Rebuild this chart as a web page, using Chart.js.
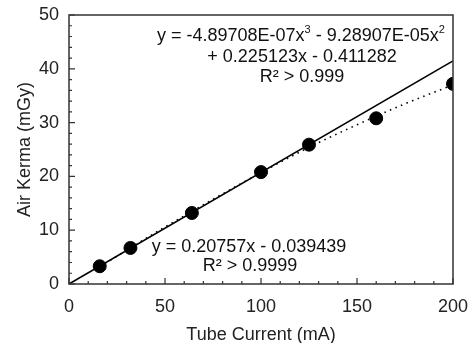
<!DOCTYPE html>
<html><head><meta charset="utf-8">
<script src="https://cdn.jsdelivr.net/npm/chart.js@4.4.1/dist/chart.umd.min.js"></script>
<style>html,body{margin:0;padding:0;background:#fff}#wrap{width:471px;height:343px}</style>
</head><body><div id="wrap"><canvas id="c" width="471" height="343"></canvas></div>
<script>
// Data
const tubeCurrent = [16, 32, 64, 100, 125, 160, 200];
const airKerma = [3.3, 6.7, 13.2, 20.8, 25.9, 30.8, 37.2];
// Linear trend line (solid) end points
const linX = [0, 200];
const linY = [0, 41.47];
// Polynomial trend line (dotted)
const polyX = [16, 50, 100, 125, 150, 175, 200];
const polyY = [3.2, 10.6, 20.7, 25.4, 29.6, 33.5, 37.0];
const xTicks = [0, 50, 100, 150, 200];
const yTicks = [0, 10, 20, 30, 40, 50];

const FONT = "'Liberation Sans', Arial, sans-serif";
const FS = 18;
const toXY = (xs, ys) => xs.map((x, i) => ({x, y: ys[i]}));

const framePlugin = {
  id: 'frame',
  afterDatasetsDraw(chart) {
    const {ctx, chartArea: a, scales: {x, y}} = chart;
    ctx.save();
    ctx.strokeStyle = '#333';
    ctx.lineWidth = 1.5;
    ctx.strokeRect(a.left, a.top, a.right - a.left, a.bottom - a.top);
    ctx.lineWidth = 1.2;
    ctx.beginPath();
    for (let v = 0; v <= 200; v += 10) {
      const px = x.getPixelForValue(v);
      const len = v % 50 === 0 ? 6 : 3;
      ctx.moveTo(px, a.bottom); ctx.lineTo(px, a.bottom - len);
    }
    for (let v = 0; v <= 50; v += 2) {
      const py = y.getPixelForValue(v);
      const len = v % 10 === 0 ? 6 : 3;
      ctx.moveTo(a.left, py); ctx.lineTo(a.left + len, py);
    }
    ctx.stroke();

    // Equations
    ctx.fillStyle = '#111';
    ctx.textBaseline = 'alphabetic';
    const parts = [['y = -4.89708E-07x', false], ['3', true], [' - 9.28907E-05x', false], ['2', true]];
    let cx = 157;
    const b1 = 41;
    parts.forEach(([t, s]) => {
      ctx.font = (s ? '11px ' : FS + 'px ') + FONT;
      ctx.fillText(t, cx, s ? b1 - 8 : b1);
      cx += ctx.measureText(t).width;
    });
    ctx.font = FS + 'px ' + FONT;
    ctx.textAlign = 'center';
    ctx.fillText('+ 0.225123x - 0.411282', 302, 62);
    ctx.fillText('R\u00b2 > 0.999', 302, 82);
    ctx.fillText('y = 0.20757x - 0.039439', 249, 252);
    ctx.fillText('R\u00b2 > 0.9999', 250, 271);
    ctx.restore();
  }
};

new Chart(document.getElementById('c'), {
  type: 'scatter',
  data: {
    datasets: [
      {data: toXY(tubeCurrent, airKerma), backgroundColor: '#000', borderColor: '#000', pointRadius: 6.5, pointHoverRadius: 6.5, showLine: false},
      {data: toXY(linX, linY), borderColor: '#000', borderWidth: 1.6, pointRadius: 0, showLine: true},
      {data: toXY(polyX, polyY), borderColor: '#000', borderWidth: 1.6, borderDash: [1.5, 4.5], pointRadius: 0, showLine: true, tension: 0.4, cubicInterpolationMode: 'monotone'}
    ]
  },
  options: {
    responsive: false,
    animation: false,
    events: [],
    layout: {padding: {left: 14, right: 18, top: 15, bottom: 0}},
    plugins: {legend: {display: false}, tooltip: {enabled: false}},
    scales: {
      x: {
        type: 'linear', min: 0, max: 200,
        afterBuildTicks: s => { s.ticks = xTicks.map(v => ({value: v})); },
        afterFit: s => { s.height = 59; s.paddingLeft = 0; s.paddingRight = 0; },
        grid: {display: false, drawTicks: false},
        border: {display: false},
        ticks: {color: '#222', font: {family: FONT, size: FS}, padding: 12, maxRotation: 0},
        title: {display: true, text: 'Tube Current (mA)', color: '#222', font: {family: FONT, size: FS}, padding: {top: 11, bottom: -3}}
      },
      y: {
        type: 'linear', min: 0, max: 50,
        afterBuildTicks: s => { s.ticks = yTicks.map(v => ({value: v})); },
        afterFit: s => { s.width = 55; s.paddingTop = 0; s.paddingBottom = 0; },
        grid: {display: false, drawTicks: false},
        border: {display: false},
        ticks: {color: '#222', font: {family: FONT, size: FS}, padding: 10},
        title: {display: true, text: 'Air Kerma (mGy)', color: '#222', font: {family: FONT, size: FS}, padding: {top: 0, bottom: 2}}
      }
    }
  },
  plugins: [framePlugin]
});
</script></body></html>
